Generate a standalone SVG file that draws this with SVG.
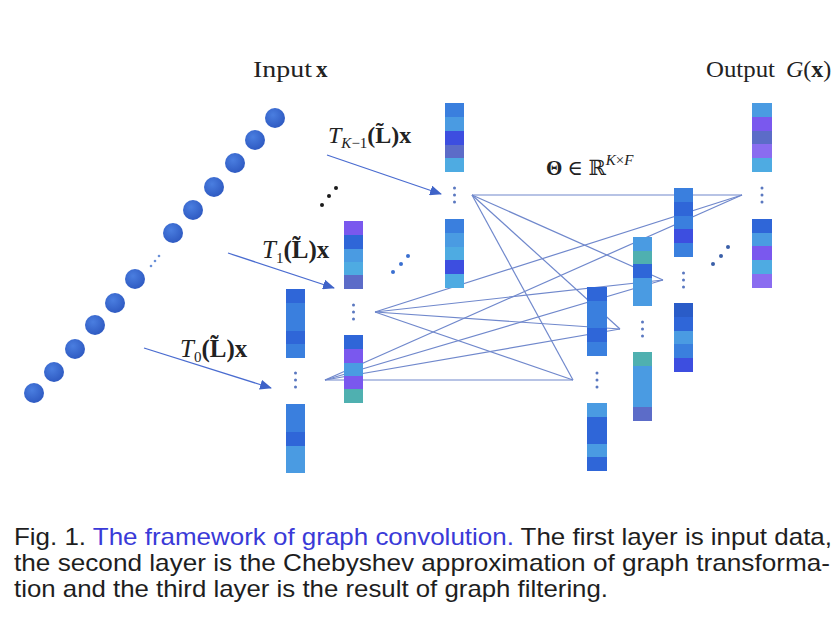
<svg xmlns="http://www.w3.org/2000/svg" width="840" height="622" viewBox="0 0 840 622">
<style>
.serif{font-family:"Liberation Serif","DejaVu Serif",serif;fill:#222}
.cap{font-family:"Liberation Sans",Arial,sans-serif;font-size:24px;fill:#1e1e1e}
.blue{fill:#3a3ad8}
.it{font-style:italic}
.bd{font-weight:bold}
.conn{stroke:#7088cc;stroke-width:1.2;fill:none}
.arr{stroke:#4a6cd0;stroke-width:1.3;fill:none}
.p1{fill:#2f66d8}.p2{fill:#3a7fde}.p3{fill:#4a9be2}.p4{fill:#4eabe2}.p5{fill:#7a58ee}.p6{fill:#5c6cc8}.p7{fill:#4fb0b0}.p8{fill:#3d4ee0}.p9{fill:#8a6cf0}.p10{fill:#2a5cc8}
.vd{fill:#5a78c0}
</style>
<defs>
<marker id="ah" viewBox="0 0 12 10" refX="11" refY="5" markerWidth="12" markerHeight="10" markerUnits="userSpaceOnUse" orient="auto">
<path d="M0,0 L12,5 L0,10 z" fill="#3f63c8"/>
</marker>
<radialGradient id="dg" cx="0.4" cy="0.35" r="0.7">
<stop offset="0" stop-color="#4a7ee0"/>
<stop offset="1" stop-color="#2d58c0"/>
</radialGradient>
</defs>

<!-- connectors -->
<g id="connectors">
<line class="conn" x1="325" y1="380" x2="573" y2="380"/>
<line class="conn" x1="325" y1="380" x2="620" y2="329"/>
<line class="conn" x1="325" y1="380" x2="663" y2="280"/>
<line class="conn" x1="325" y1="380" x2="742" y2="195"/>
<line class="conn" x1="375" y1="312" x2="573" y2="380"/>
<line class="conn" x1="375" y1="312" x2="620" y2="329"/>
<line class="conn" x1="375" y1="312" x2="663" y2="280"/>
<line class="conn" x1="375" y1="312" x2="742" y2="195"/>
<line class="conn" x1="472" y1="195" x2="573" y2="380"/>
<line class="conn" x1="472" y1="195" x2="620" y2="329"/>
<line class="conn" x1="472" y1="195" x2="663" y2="280"/>
<line class="conn" x1="472" y1="195" x2="742" y2="195"/>
<line class="arr" x1="144" y1="348" x2="271" y2="388" marker-end="url(#ah)"/>
<line class="arr" x1="228" y1="253" x2="334" y2="288" marker-end="url(#ah)"/>
<line class="arr" x1="327" y1="155" x2="441" y2="194" marker-end="url(#ah)"/>
</g>

<!-- input nodes -->
<g id="input-nodes" fill="url(#dg)">
<circle cx="275" cy="118" r="10"/>
<circle cx="255" cy="140" r="10"/>
<circle cx="235" cy="163" r="10"/>
<circle cx="214" cy="187" r="10"/>
<circle cx="193" cy="210" r="10"/>
<circle cx="173" cy="233" r="10"/>
<circle cx="135" cy="279" r="10"/>
<circle cx="115" cy="303" r="10"/>
<circle cx="95" cy="325" r="10"/>
<circle cx="75" cy="349" r="10"/>
<circle cx="54" cy="372" r="10"/>
<circle cx="34" cy="393" r="10"/>
</g>
<g id="input-ellipsis" fill="#6a90d8">
<circle cx="151" cy="266" r="1.3"/>
<circle cx="155" cy="261" r="1.3"/>
<circle cx="159" cy="256" r="1.3"/>
</g>

<!-- column A: T0 -->
<g id="colA">
<rect class="p1" x="286" y="289" width="19" height="14"/><rect class="p2" x="286" y="303" width="19" height="14"/><rect class="p2" x="286" y="317" width="19" height="14"/><rect class="p1" x="286" y="331" width="19" height="13"/><rect class="p2" x="286" y="344" width="19" height="14"/>
<circle class="vd" cx="295.5" cy="373" r="1.5"/><circle class="vd" cx="295.5" cy="380" r="1.5"/><circle class="vd" cx="295.5" cy="387" r="1.5"/>
<rect class="p2" x="286" y="404" width="19" height="14"/><rect class="p2" x="286" y="418" width="19" height="14"/><rect class="p1" x="286" y="432" width="19" height="14"/><rect class="p3" x="286" y="446" width="19" height="13"/><rect class="p3" x="286" y="459" width="19" height="14"/>
</g>

<!-- column B: T1 -->
<g id="colB">
<rect class="p5" x="344" y="221" width="19" height="14"/><rect class="p1" x="344" y="235" width="19" height="14"/><rect class="p3" x="344" y="249" width="19" height="13"/><rect class="p4" x="344" y="262" width="19" height="13"/><rect class="p6" x="344" y="275" width="19" height="14"/>
<circle class="vd" cx="353.5" cy="305" r="1.5"/><circle class="vd" cx="353.5" cy="312" r="1.5"/><circle class="vd" cx="353.5" cy="319" r="1.5"/>
<rect class="p1" x="344" y="335" width="19" height="14"/><rect class="p5" x="344" y="349" width="19" height="14"/><rect class="p3" x="344" y="363" width="19" height="13"/><rect class="p5" x="344" y="376" width="19" height="13"/><rect class="p7" x="344" y="389" width="19" height="14"/>
</g>

<!-- column C: TK-1 -->
<g id="colC">
<rect class="p2" x="445" y="103" width="19" height="14"/><rect class="p3" x="445" y="117" width="19" height="14"/><rect class="p8" x="445" y="131" width="19" height="14"/><rect class="p6" x="445" y="145" width="19" height="13"/><rect class="p4" x="445" y="158" width="19" height="14"/>
<circle class="vd" cx="454.5" cy="188" r="1.5"/><circle class="vd" cx="454.5" cy="195" r="1.5"/><circle class="vd" cx="454.5" cy="202" r="1.5"/>
<rect class="p2" x="445" y="219" width="19" height="14"/><rect class="p3" x="445" y="233" width="19" height="14"/><rect class="p4" x="445" y="247" width="19" height="13"/><rect class="p8" x="445" y="260" width="19" height="14"/><rect class="p4" x="445" y="274" width="19" height="14"/>
</g>

<!-- column D -->
<g id="colD">
<rect class="p1" x="587" y="287" width="20" height="14"/><rect class="p2" x="587" y="301" width="20" height="14"/><rect class="p2" x="587" y="315" width="20" height="13"/><rect class="p1" x="587" y="328" width="20" height="14"/><rect class="p2" x="587" y="342" width="20" height="14"/>
<circle class="vd" cx="597" cy="373" r="1.5"/><circle class="vd" cx="597" cy="380" r="1.5"/><circle class="vd" cx="597" cy="387" r="1.5"/>
<rect class="p3" x="587" y="403" width="20" height="14"/><rect class="p1" x="587" y="417" width="20" height="13"/><rect class="p1" x="587" y="430" width="20" height="14"/><rect class="p3" x="587" y="444" width="20" height="13"/><rect class="p1" x="587" y="457" width="20" height="14"/>
</g>

<!-- column E -->
<g id="colE">
<rect class="p3" x="633" y="237" width="19" height="14"/><rect class="p7" x="633" y="251" width="19" height="13"/><rect class="p1" x="633" y="264" width="19" height="14"/><rect class="p3" x="633" y="278" width="19" height="14"/><rect class="p3" x="633" y="292" width="19" height="14"/>
<circle class="vd" cx="642.5" cy="322" r="1.5"/><circle class="vd" cx="642.5" cy="329" r="1.5"/><circle class="vd" cx="642.5" cy="336" r="1.5"/>
<rect class="p7" x="633" y="352" width="19" height="14"/><rect class="p3" x="633" y="366" width="19" height="14"/><rect class="p3" x="633" y="380" width="19" height="13"/><rect class="p3" x="633" y="393" width="19" height="14"/><rect class="p6" x="633" y="407" width="19" height="14"/>
</g>

<!-- column F -->
<g id="colF">
<rect class="p2" x="674" y="188" width="19" height="14"/><rect class="p1" x="674" y="202" width="19" height="14"/><rect class="p2" x="674" y="216" width="19" height="13"/><rect class="p8" x="674" y="229" width="19" height="14"/><rect class="p2" x="674" y="243" width="19" height="14"/>
<circle class="vd" cx="683.5" cy="273" r="1.5"/><circle class="vd" cx="683.5" cy="280" r="1.5"/><circle class="vd" cx="683.5" cy="287" r="1.5"/>
<rect class="p10" x="674" y="303" width="19" height="14"/><rect class="p1" x="674" y="317" width="19" height="14"/><rect class="p3" x="674" y="331" width="19" height="13"/><rect class="p2" x="674" y="344" width="19" height="14"/><rect class="p8" x="674" y="358" width="19" height="14"/>
</g>

<!-- column G: output -->
<g id="colG">
<rect class="p3" x="752" y="103" width="20" height="14"/><rect class="p5" x="752" y="117" width="20" height="14"/><rect class="p6" x="752" y="131" width="20" height="13"/><rect class="p9" x="752" y="144" width="20" height="14"/><rect class="p4" x="752" y="158" width="20" height="14"/>
<circle class="vd" cx="762" cy="188" r="1.5"/><circle class="vd" cx="762" cy="195" r="1.5"/><circle class="vd" cx="762" cy="202" r="1.5"/>
<rect class="p1" x="752" y="219" width="20" height="14"/><rect class="p3" x="752" y="233" width="20" height="13"/><rect class="p5" x="752" y="246" width="20" height="14"/><rect class="p4" x="752" y="260" width="20" height="14"/><rect class="p9" x="752" y="274" width="20" height="14"/>
</g>

<!-- diagonal ellipses -->
<g id="ellipses">
<circle cx="322" cy="205" r="2" fill="#1a1a1a"/><circle cx="329" cy="196" r="2" fill="#1a1a1a"/><circle cx="336" cy="188" r="2" fill="#1a1a1a"/>
<circle cx="393" cy="272" r="2" fill="#3a6fd0"/><circle cx="401" cy="264" r="2" fill="#3a6fd0"/><circle cx="408" cy="256" r="2" fill="#3a6fd0"/>
<circle cx="713" cy="264" r="2" fill="#3a5fa8"/><circle cx="721" cy="256" r="2" fill="#3a5fa8"/><circle cx="728" cy="247" r="2" fill="#3a5fa8"/>
</g>

<!-- labels -->
<g id="labels">
<text class="serif" x="253" y="77" font-size="23" textLength="59" lengthAdjust="spacingAndGlyphs">Input</text>
<text class="serif bd" x="316" y="77" font-size="23">x</text>
<text class="serif" x="706" y="77" font-size="23" textLength="69" lengthAdjust="spacingAndGlyphs">Output</text>
<text class="serif" x="786" y="77" font-size="24"><tspan class="it">G</tspan>(<tspan class="bd">x</tspan>)</text>
<text class="serif" x="546" y="175" font-size="21"><tspan class="bd">Θ</tspan> ∈ ℝ<tspan font-size="15" dy="-10" class="it">K</tspan><tspan font-size="15">×</tspan><tspan font-size="15" class="it">F</tspan></text>
<text class="serif" x="180" y="357" font-size="25"><tspan class="it">T</tspan><tspan font-size="15" dy="5">0</tspan><tspan dy="-5" class="bd">(L̃)x</tspan></text>
<text class="serif" x="262" y="258" font-size="25"><tspan class="it">T</tspan><tspan font-size="15" dy="5">1</tspan><tspan dy="-5" class="bd">(L̃)x</tspan></text>
<text class="serif" x="328" y="143" font-size="24"><tspan class="it">T</tspan><tspan font-size="15" dy="5"><tspan class="it">K</tspan>−1</tspan><tspan dy="-5" class="bd">(L̃)x</tspan></text>
</g>

<!-- caption -->
<g id="caption">
<text class="cap" x="14" y="545" textLength="818" lengthAdjust="spacingAndGlyphs">Fig. 1. <tspan class="blue">The framework of graph convolution.</tspan> The first layer is input data,</text>
<text class="cap" x="14" y="571" textLength="816" lengthAdjust="spacingAndGlyphs">the second layer is the Chebyshev approximation of graph transforma-</text>
<text class="cap" x="14" y="597" textLength="594" lengthAdjust="spacingAndGlyphs">tion and the third layer is the result of graph filtering.</text>
</g>
</svg>
